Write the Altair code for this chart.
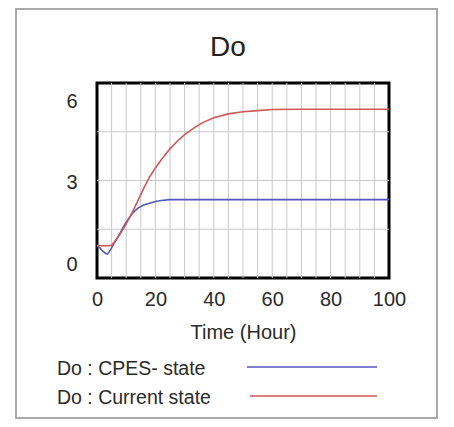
import altair as alt
import pandas as pd

# --- data ---
time_cpes = [0, 1, 2, 3, 3.5, 4, 5, 6, 7, 8, 9, 10, 11, 12, 13, 14, 16, 18, 20, 22, 25, 30, 40, 50, 60, 70, 80, 90, 100]
do_cpes = [0.70, 0.62, 0.50, 0.42, 0.40, 0.45, 0.62, 0.82, 0.98, 1.18, 1.38, 1.56, 1.72, 1.86, 1.98, 2.08, 2.19, 2.26, 2.32, 2.36, 2.39, 2.39, 2.39, 2.39, 2.39, 2.39, 2.39, 2.39, 2.39]

time_cur = [0, 1, 2, 3, 4, 5, 6, 7, 8, 9, 10, 12, 14, 16, 18, 20, 22, 25, 28, 30, 33, 36, 40, 45, 50, 55, 60, 70, 80, 90, 100]
do_cur = [0.70, 0.70, 0.70, 0.70, 0.70, 0.72, 0.85, 1.00, 1.15, 1.32, 1.50, 1.90, 2.35, 2.80, 3.22, 3.55, 3.85, 4.25, 4.58, 4.77, 5.00, 5.20, 5.39, 5.53, 5.61, 5.65, 5.69, 5.70, 5.70, 5.70, 5.70]

series_names = ["Do : CPES- state", "Do : Current state"]
series_colors = ["#5555c0", "#d05858"]

chart_title = "Do"
x_title = "Time (Hour)"
x_ticks = [0, 20, 40, 60, 80, 100]
y_ticks = [0, 3, 6]
x_grid = list(range(5, 100, 5))
y_domain = [-0.48, 6.66]
y_grid = [1.305, 3.09, 4.875]

FONT = "Liberation Sans"
FS = 20

df = pd.concat([
    pd.DataFrame({"t": time_cpes, "v": do_cpes, "s": series_names[0]}),
    pd.DataFrame({"t": time_cur, "v": do_cur, "s": series_names[1]}),
])

xs = alt.Scale(domain=[0, 100], nice=False)
ys = alt.Scale(domain=y_domain, nice=False)
cs = alt.Scale(domain=series_names, range=series_colors)

x_axis = alt.Axis(values=x_ticks, grid=False, ticks=False, domain=False,
                  labelFontSize=FS, labelFont=FONT, labelColor="#2a2a2a",
                  labelPadding=11, titleFontSize=FS, titleFont=FONT,
                  titleFontWeight="normal", titleColor="#2a2a2a", titlePadding=13,
                  labelFlush=False)
y_axis = alt.Axis(values=y_ticks, grid=False, ticks=False, domain=False,
                  labelFontSize=FS, labelFont=FONT, labelColor="#2a2a2a",
                  labelPadding=20)

vgrid = alt.Chart(pd.DataFrame({"g": x_grid})).mark_rule(color="#c8c8c8", strokeWidth=1).encode(
    x=alt.X("g:Q", scale=xs, axis=x_axis, title=x_title)
)
hgrid = alt.Chart(pd.DataFrame({"g": y_grid})).mark_rule(color="#c8c8c8", strokeWidth=1).encode(
    y=alt.Y("g:Q", scale=ys, axis=y_axis, title=None)
)

lines = alt.Chart(df).mark_line(strokeWidth=1.6, clip=True).encode(
    x=alt.X("t:Q", scale=xs, title=x_title, axis=x_axis),
    y=alt.Y("v:Q", scale=ys, title=None, axis=y_axis),
    color=alt.Color("s:N", scale=cs, legend=None),
)

one = pd.DataFrame({"k": [0]})

title_mark = alt.Chart(one).mark_text(
    text=chart_title, fontSize=28, font=FONT, color="#222", align="center", baseline="middle"
).encode(x=alt.value(131), y=alt.value(-35))

legend_layers = []
for name, ty, ly, lx in [(series_names[0], 286, 284, 150), (series_names[1], 315, 313, 153)]:
    legend_layers.append(
        alt.Chart(one).mark_text(text=name, align="left", baseline="middle",
                                 fontSize=19.5, font=FONT, color="#2a2a2a").encode(
            x=alt.value(-40), y=alt.value(ty))
    )
    legend_layers.append(
        alt.Chart(pd.DataFrame({"s": [name]})).mark_rule(strokeWidth=1.6).encode(
            x=alt.value(lx), x2=alt.value(280), y=alt.value(ly),
            color=alt.Color("s:N", scale=cs, legend=None))
    )

frame = alt.Chart(one).mark_rect(fill=None, stroke="#aaaaaa", strokeWidth=2).encode(
    x=alt.value(-81), x2=alt.value(340), y=alt.value(-74), y2=alt.value(335)
)

chart = alt.layer(vgrid, hgrid, lines, frame, title_mark, *legend_layers).properties(
    width=292,
    height=195,
    autosize=alt.AutoSizeParams(type="none"),
    padding={"left": 89, "top": 75, "right": 57, "bottom": 141},
).configure_view(stroke="black", strokeWidth=3)

chart.save("out.html", embed_options={"renderer": "svg", "actions": False})
